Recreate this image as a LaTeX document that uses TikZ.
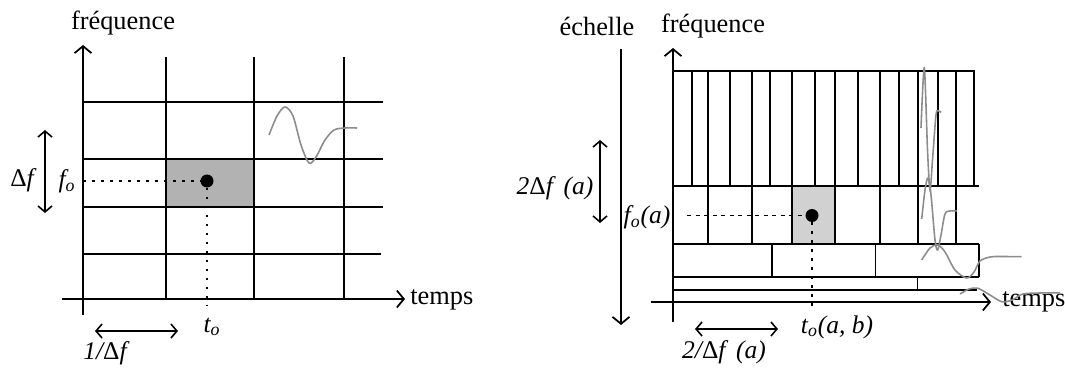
\documentclass[tikz,border=0pt]{standalone}
\usepackage{fontspec}
\setmainfont{Liberation Serif}
\usetikzlibrary{arrows.meta}

\begin{document}
\begin{tikzpicture}[x=0.2mm, y=-0.2mm,
    grd/.style={line width=1.1pt},
    axarr/.style={line width=1pt, -{Straight Barb[length=1.4mm,width=3.4mm]}},
    dbl/.style={line width=0.9pt, {Straight Barb[length=1.2mm,width=2.8mm]}-{Straight Barb[length=1.2mm,width=2.8mm]}},
    dotln/.style={line width=1pt, dash pattern=on 0.5mm off 1.3mm},
    dashln/.style={line width=1pt, dash pattern=on 0.8mm off 0.9mm},
    wav/.style={line width=0.9pt, draw=black!45},
    ctr/.style={circle, fill=black, inner sep=0pt, minimum size=2.6mm},
    lbl/.style={font=\fontsize{15}{18}\selectfont, inner sep=0pt},
    mth/.style={font=\fontsize{14.5}{17}\selectfont\itshape, inner sep=0pt}
]
    \useasboundingbox (0,0) rectangle (1065,367);

    % temps-frequence
    \fill[black!30] (166,159) rectangle (254,207);
    \draw[grd] (166,57)--(166,299) (254,57)--(254,299) (344,57)--(344,299);
    \draw[grd] (83,102)--(383,102) (83,159)--(383,159) (83,207)--(383,207) (83,254)--(381,254);
    \coordinate (fa0) at (83,315); \coordinate (fa1) at (83,45);
    \coordinate (ta0) at (62,299); \coordinate (ta1) at (405,299);
    \draw[axarr] (fa0)--(fa1); \draw[axarr] (ta0)--(ta1);
    \node[lbl] (frq1) at (123,23) {fréquence};
    \node[lbl, anchor=west] (tps1) at (410,300) {temps};

    \node[ctr] (c1) at (207,181) {};
    \coordinate (fo1) at (83,181); \coordinate (to1) at (207,305);
    \draw[dotln] (fo1)--(c1); \draw[dotln] (c1)--(to1);
    \node[mth] (lfo1) at (67,181) {f\textsubscript{o}};
    \node[mth] (ltu1) at (212,327) {t\textsubscript{o}};
    \node[mth] (ldf1) at (22,180) {{\upshape Δ}f};
    \node[mth] (ldt1) at (105,353) {1/{\upshape Δ}f};
    \coordinate (v1a) at (45,130); \coordinate (v1b) at (45,213);
    \coordinate (h1a) at (95,331); \coordinate (h1b) at (178,331);
    \draw[dbl] (v1a)--(v1b); \draw[dbl] (h1a)--(h1b);

    \draw[wav] plot[smooth] coordinates {(269,135) (277,116) (285,107) (293,116) (301,145) (309,163) (316,157) (325,140) (334,130) (345,128) (357,128)};

    % temps-echelle
    \fill[black!18] (791.6,186) rectangle (835.2,244);
    \draw[grd] (673,71)--(975,71) (673,186)--(979,186) (673,244)--(979,244) (673,277)--(979,277) (673,290)--(977,290);
    \draw[grd] (692,71)--(692,186) (730,71)--(730,186) (770.3,71)--(770.3,186) (814.7,71)--(814.7,186)
        (858,71)--(858,186) (898.7,71)--(898.7,186) (938.2,71)--(938.2,186) (974.4,71)--(974.4,186);
    \draw[grd] (708.4,71)--(708.4,244) (751.6,71)--(751.6,244) (791.6,71)--(791.6,244) (835.2,71)--(835.2,244)
        (879.6,71)--(879.6,244) (918.4,71)--(918.4,244) (955.7,71)--(955.7,244);
    \draw[grd] (772.3,244)--(772.3,277) (875.5,244)--(875.5,277) (979,244)--(979,277) (917.5,277)--(917.5,290);
    \coordinate (fa2) at (673,322); \coordinate (fa3) at (673,48);
    \coordinate (ta2) at (651,302); \coordinate (ta3) at (991,302);
    \coordinate (ea0) at (621,49); \coordinate (ea1) at (621,325);
    \draw[axarr] (fa2)--(fa3); \draw[axarr] (ta2)--(ta3); \draw[axarr] (ea0)--(ea1);
    \node[lbl] (ech) at (597,26) {échelle};
    \node[lbl] (frq2) at (713,26) {fréquence};
    \node[lbl, anchor=west] (tps2) at (1002,302) {temps};

    \node[ctr] (c2) at (812,215.5) {};
    \coordinate (fo2) at (687,215.5); \coordinate (to2) at (812,309);
    \draw[dashln] (fo2)--(c2); \draw[dotln] (c2)--(to2);
    \node[mth] (lfo2) at (647,217) {f\textsubscript{o}(a)};
    \node[mth] (ltu2) at (837,327) {t\textsubscript{o}(a, b)};
    \node[mth] (ldf2) at (555,188) {2{\upshape Δ}f \,(a)};
    \node[mth] (ldt2) at (724,352) {2/{\upshape Δ}f \,(a)};
    \coordinate (v2a) at (600,140); \coordinate (v2b) at (600,223);
    \coordinate (h2a) at (695,329); \coordinate (h2b) at (778,329);
    \draw[dbl] (v2a)--(v2b); \draw[dbl] (h2a)--(h2b);

    \draw[wav] plot[smooth] coordinates {(921,128) (924.3,68) (927.5,150) (930,190) (932.5,160) (936,115) (938.5,111) (941,112.5)};
    \draw[wav] plot[smooth] coordinates {(921.7,219) (925,190) (928,178) (931,195) (935,240) (937.7,250) (941,235) (945,214) (950,211) (956.7,211)};
    \draw[wav] plot[smooth] coordinates {(921.7,260) (930,248) (937.7,245) (945,252) (955,270) (966.7,278) (974,272) (980,261) (990,257) (1000,256.5) (1021.7,256.7)};
    \draw[wav] plot[smooth] coordinates {(960,294) (969,289) (978,288.3) (990,295) (1001.7,301.7) (1012,300) (1023,294) (1040,293) (1060,292.7)};
\end{tikzpicture}
\end{document}
